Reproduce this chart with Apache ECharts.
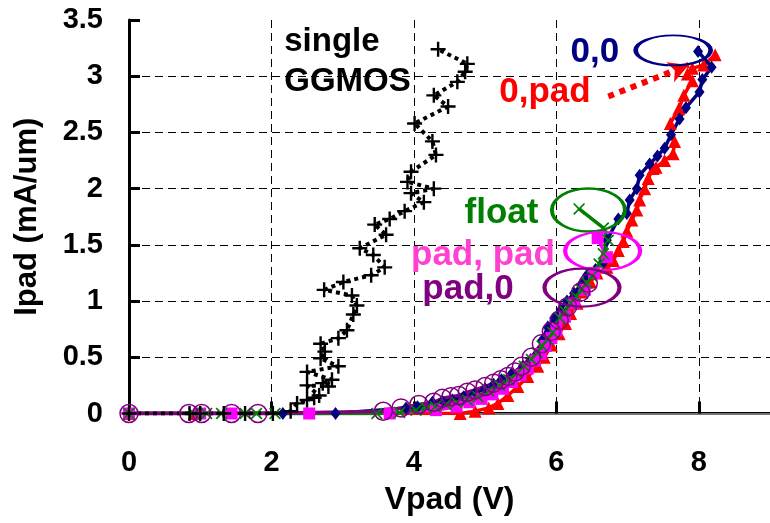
<!doctype html>
<html>
<head>
<meta charset="utf-8">
<title>Ipad vs Vpad</title>
<script src="https://cdn.jsdelivr.net/npm/echarts@6/dist/echarts.min.js"></script>
<style>
  html, body { margin: 0; padding: 0; background: #fff; }
  #main { width: 770px; height: 523px; }
</style>
</head>
<body>
<div id="main"></div>
<script>
    // single GGMOS (black, dotted, +)
    var ggX = [0, 0.85, 1.0, 1.33, 1.63, 2.02, 2.27, 2.36, 2.50, 2.60, 2.67, 2.50, 2.80, 2.72, 2.85, 2.50, 2.94, 2.69, 2.75, 2.69, 2.94, 3.06, 3.15, 3.20, 3.13, 2.74, 3.01, 3.40, 3.59, 3.43, 3.24, 3.61, 3.45, 3.66, 3.87, 4.14, 3.96, 4.28, 3.91, 3.96, 4.31, 4.26, 4.01, 4.48, 4.28, 4.61, 4.72, 4.75, 4.34];
    var ggY = [0, 0, 0, 0, 0, 0, 0.02, 0.09, 0.12, 0.14, 0.16, 0.25, 0.24, 0.27, 0.30, 0.37, 0.42, 0.49, 0.55, 0.62, 0.67, 0.74, 0.88, 0.96, 1.05, 1.10, 1.17, 1.23, 1.30, 1.41, 1.47, 1.59, 1.68, 1.73, 1.80, 1.88, 1.96, 2.00, 2.06, 2.15, 2.30, 2.42, 2.58, 2.73, 2.83, 2.95, 3.04, 3.11, 3.24];

    // 0,0 (navy diamonds)
    var zzX = [0, 2.16, 2.90, 3.89, 4.05, 4.26, 4.40, 4.54, 4.70, 4.86, 5.00, 5.12, 5.23, 5.38, 5.53, 5.64, 5.74, 5.80, 5.88, 5.97, 6.06, 6.15, 6.25, 6.35, 6.43, 6.55, 6.66, 6.71, 6.87, 6.99, 7.03, 7.13, 7.17, 7.31, 7.42, 7.52, 7.61, 7.73, 7.82, 8.01, 8.05, 8.18, 7.99];
    var zzY = [0, 0, 0, 0.05, 0.06, 0.10, 0.11, 0.12, 0.15, 0.18, 0.22, 0.26, 0.30, 0.36, 0.42, 0.48, 0.54, 0.65, 0.77, 0.85, 0.92, 1.00, 1.07, 1.15, 1.23, 1.28, 1.34, 1.54, 1.73, 1.78, 1.90, 2.00, 2.12, 2.22, 2.29, 2.36, 2.48, 2.62, 2.72, 2.86, 2.97, 3.08, 3.22];

    // 0,pad (red triangles)
    var zpX = [0, 0.92, 4.65, 4.86, 5.05, 5.18, 5.32, 5.46, 5.60, 5.74, 5.83, 5.93, 6.04, 6.13, 6.20, 6.29, 6.36, 6.48, 6.57, 6.71, 6.80, 6.87, 6.94, 6.99, 7.06, 7.13, 7.17, 7.24, 7.29, 7.36, 7.40, 7.52, 7.64, 7.66, 7.60, 7.72, 7.79, 7.91, 7.84, 7.91, 8.07, 8.23];
    var zpY = [0, 0, 0, 0.02, 0.05, 0.09, 0.16, 0.24, 0.33, 0.42, 0.50, 0.61, 0.71, 0.80, 0.89, 0.98, 1.08, 1.17, 1.25, 1.30, 1.36, 1.45, 1.53, 1.62, 1.72, 1.81, 1.90, 2.00, 2.09, 2.18, 2.19, 2.25, 2.31, 2.42, 2.58, 2.71, 2.83, 2.96, 3.02, 3.07, 3.10, 3.19];

    // float (green x)
    var flX = [0, 0.91, 1.09, 1.30, 1.63, 1.79, 2.05, 3.48, 3.80, 4.03, 4.18, 4.30, 4.45, 4.60, 4.75, 4.90, 5.05, 5.20, 5.33, 5.45, 5.55, 5.65, 5.73, 5.80, 5.88, 5.95, 6.05, 6.12, 6.20, 6.28, 6.35, 6.43, 6.50, 6.60, 6.66, 6.73, 6.66, 6.32];
    var flY = [0, 0, 0, 0, 0, 0, 0, 0, 0.01, 0.03, 0.05, 0.06, 0.08, 0.10, 0.12, 0.15, 0.20, 0.25, 0.30, 0.36, 0.42, 0.48, 0.54, 0.60, 0.66, 0.72, 0.85, 0.91, 0.98, 1.04, 1.10, 1.16, 1.22, 1.33, 1.42, 1.54, 1.65, 1.82];

    // pad, pad (magenta squares)
    var ppX = [0, 1.00, 1.44, 2.53, 3.66, 4.31, 4.60, 4.78, 4.95, 5.10, 5.25, 5.38, 5.50, 5.60, 5.70, 5.78, 5.85, 5.93, 6.00, 6.12, 6.25, 6.40, 6.53, 6.71, 6.58];
    var ppY = [0, 0, 0, 0, 0, 0.03, 0.06, 0.10, 0.13, 0.17, 0.22, 0.28, 0.34, 0.40, 0.47, 0.53, 0.60, 0.67, 0.74, 0.86, 0.98, 1.10, 1.25, 1.39, 1.56];

    // pad,0 (purple open circles)
    var p0X = [0, 0.84, 1.02, 1.44, 1.81, 3.57, 3.82, 4.07, 4.28, 4.40, 4.52, 4.63, 4.75, 4.86, 5.00, 5.12, 5.22, 5.32, 5.42, 5.51, 5.65, 5.79, 5.93, 6.04, 6.16, 6.34, 6.45];
    var p0Y = [0, 0, 0, 0, 0, 0.02, 0.05, 0.08, 0.10, 0.135, 0.15, 0.16, 0.19, 0.21, 0.24, 0.27, 0.30, 0.33, 0.37, 0.42, 0.50, 0.62, 0.73, 0.83, 0.95, 1.08, 1.16];

    var xTicks = [0, 2, 4, 6, 8];
    var yTicks = [0, 0.5, 1, 1.5, 2, 2.5, 3, 3.5];

    var FONT = '"Liberation Sans", Arial, Helvetica, sans-serif';

    function pairs(xs, ys) {
        return xs.map(function (x, i) { return [x, ys[i]]; });
    }

    function note(coord, text, color, size, align) {
        return {
            coord: coord, symbol: 'circle', symbolSize: 1,
            itemStyle: {color: 'rgba(0,0,0,0)'},
            label: {
                show: true, position: 'inside', formatter: text, color: color,
                fontSize: size, fontWeight: 'bold', fontFamily: FONT,
                align: align || 'center', verticalAlign: 'middle', lineHeight: 40
            }
        };
    }

    function ring(coord, w, h, color) {
        return {
            coord: coord, symbol: 'circle', symbolSize: [w, h],
            itemStyle: {color: 'rgba(0,0,0,0)', borderColor: color, borderWidth: 3},
            label: {show: false}
        };
    }

    var plusPath = 'path://M4.2,0H5.8V4.2H10V5.8H5.8V10H4.2V5.8H0V4.2H4.2Z';
    var crossPath = 'path://M0,1L1,0L5,4L9,0L10,1L6,5L10,9L9,10L5,6L1,10L0,9L4,5Z';

    var chart = echarts.init(document.getElementById('main'));

    var option = {
        animation: false,
        backgroundColor: '#fff',
        grid: {left: 129, top: 20, right: -9, bottom: 109.5, containLabel: false},
        xAxis: [{
            type: 'value', min: 0, max: 9, interval: 2,
            name: 'Vpad (V)', nameLocation: 'middle', nameGap: 71,
            nameTextStyle: {fontSize: 32, fontWeight: 'bold', color: '#000', fontFamily: FONT},
            axisLine: {show: true, onZero: false, lineStyle: {color: '#000', width: 3}},
            axisTick: {show: true, inside: true, length: 12, lineStyle: {color: '#000', width: 3}},
            axisLabel: {
                fontSize: 29, fontWeight: 'bold', color: '#000', fontFamily: FONT, margin: 35,
                showMaxLabel: false,
                formatter: function (v) { return xTicks.indexOf(v) >= 0 ? String(v) : ''; }
            },
            splitLine: {show: true, showMinLine: false, lineStyle: {color: '#000', width: 1, type: [8, 5]}}
        }, {
            type: 'value', min: 0, max: 9, position: 'top',
            axisLine: {show: true, lineStyle: {color: '#999', width: 1.5}},
            axisTick: {show: false}, axisLabel: {show: false}, splitLine: {show: false}
        }],
        yAxis: {
            type: 'value', min: 0, max: 3.5, interval: 0.5,
            name: 'Ipad (mA/um)', nameLocation: 'middle', nameGap: 86,
            nameTextStyle: {fontSize: 31, fontWeight: 'bold', color: '#000', fontFamily: FONT},
            axisLine: {show: true, onZero: false, lineStyle: {color: '#000', width: 3}},
            axisTick: {show: true, inside: true, length: 11, lineStyle: {color: '#000', width: 3}},
            axisLabel: {
                fontSize: 29, fontWeight: 'bold', color: '#000', fontFamily: FONT, margin: 26,
                formatter: function (v) { return yTicks.indexOf(v) >= 0 ? String(v) : ''; }
            },
            splitLine: {show: true, showMinLine: false, showMaxLine: false, lineStyle: {color: '#000', width: 1, type: [8, 5]}}
        },
        series: [
            {
                name: '0,pad', type: 'line', data: pairs(zpX, zpY),
                symbol: 'triangle', symbolSize: 13,
                itemStyle: {color: '#ff0000'}, lineStyle: {color: '#ff0000', width: 3.5},
                markLine: {
                    silent: true, symbol: ['none', 'arrow'], symbolSize: [16, 20],
                    label: {show: false},
                    lineStyle: {color: '#ff0000', width: 6, type: [6, 6], opacity: 1},
                    data: [[{coord: [6.73, 2.82]}, {coord: [7.86, 3.10]}]]
                }
            },
            {
                name: '0,0', type: 'line', data: pairs(zzX, zzY),
                symbol: 'diamond', symbolSize: [10, 13],
                itemStyle: {color: '#000080'}, lineStyle: {color: '#000080', width: 3.5}
            },
            {
                name: 'pad, pad', type: 'line', data: pairs(ppX, ppY),
                symbol: 'rect', symbolSize: 12,
                itemStyle: {color: '#ff00ff'}, lineStyle: {color: '#ff00ff', width: 3.5}
            },
            {
                name: 'float', type: 'line', data: pairs(flX, flY),
                symbol: crossPath, symbolSize: 12,
                itemStyle: {color: '#008000'}, lineStyle: {color: '#008000', width: 3.5}
            },
            {
                name: 'pad,0', type: 'line', data: pairs(p0X, p0Y),
                symbol: 'circle', symbolSize: 18,
                itemStyle: {color: 'rgba(0,0,0,0)', borderColor: '#800080', borderWidth: 1.5},
                lineStyle: {color: '#800080', width: 3.5}
            },
            {
                name: 'single GGMOS', type: 'line', data: pairs(ggX, ggY),
                symbol: plusPath, symbolSize: 15,
                itemStyle: {color: '#000'}, lineStyle: {color: '#000', width: 4, type: [4, 4]},
                markPoint: {
                    silent: true,
                    data: [
                        note([2.18, 3.13], 'single\nGGMOS', '#000', 33, 'left'),
                        note([6.54, 3.21], '0,0', '#000080', 35),
                        note([5.84, 2.86], '0,pad', '#ff0000', 35),
                        note([5.23, 1.78], 'float', '#008000', 35),
                        note([4.97, 1.41], 'pad, pad', '#ff40d0', 35),
                        note([4.76, 1.10], 'pad,0', '#800080', 35),
                        ring([7.64, 3.23], 75, 30, '#000080'),
                        ring([6.45, 1.81], 73, 43, '#008000'),
                        ring([6.65, 1.445], 75, 38, '#ff00ff'),
                        ring([6.36, 1.12], 75, 38, '#800080')
                    ]
                }
            }
        ]
    };

    chart.setOption(option);
</script>
</body>
</html>
